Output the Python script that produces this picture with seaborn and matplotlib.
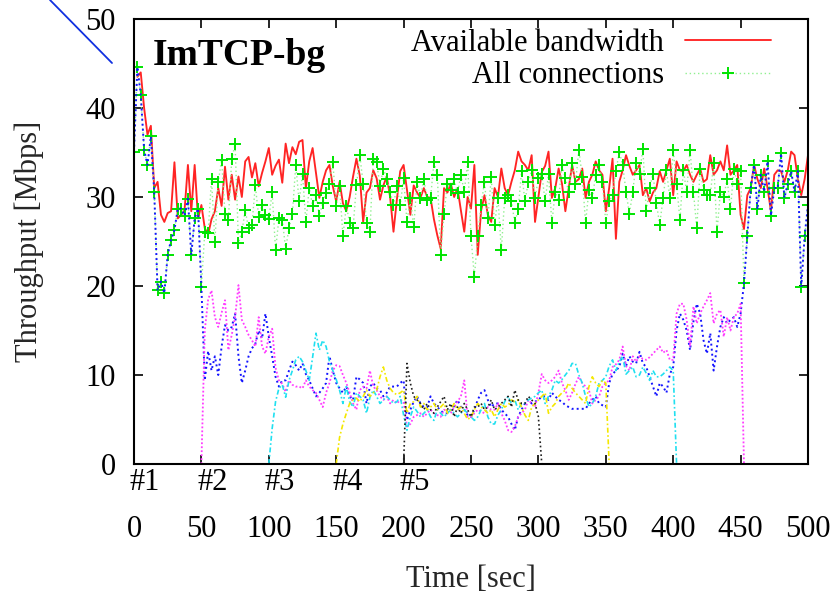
import numpy as np
import pandas as pd
import matplotlib
matplotlib.use("Agg")
import matplotlib.pyplot as plt
from matplotlib.lines import Line2D
import seaborn as sns

# ---------------- data ----------------
STEP = 2.5  # seconds between samples

avail_start = 2.5
avail_bw = [
    43.5, 44.0, 40.0, 37.0, 38.0, 31.0, 31.7, 28.0, 27.2, 28.2,
    28.4, 33.9, 27.6, 28.0, 28.5, 33.6, 28.4, 33.6, 27.6, 29.1,
    26.5, 25.8, 27.5, 28.4, 31.0, 29.0, 33.4, 29.7, 32.5, 29.7,
    32.3, 30.0, 34.0, 34.5, 32.2, 33.8, 31.2, 32.7, 34.0, 35.5,
    32.5, 33.5, 34.2, 31.6, 36.0, 33.8, 35.6, 34.8, 36.2, 36.4,
    31.0, 34.0, 35.5, 32.7, 29.9, 31.7, 33.0, 33.6, 31.2, 29.5,
    31.7, 29.3, 28.4, 30.0, 32.3, 34.3, 32.4, 27.2, 30.5, 31.0,
    33.0, 32.1, 29.7, 31.3, 32.3, 30.0, 26.1, 29.7, 32.9, 33.6,
    30.8, 28.0, 31.3, 30.5, 29.9, 31.0, 30.0, 29.9, 27.5, 25.7,
    24.2, 31.0, 30.5, 31.5, 30.0, 31.0, 28.5, 26.1, 30.0, 28.7,
    33.6, 23.5, 28.5, 30.2, 28.0, 27.2, 31.0, 30.0, 33.2, 31.0,
    30.2, 31.7, 33.0, 35.1, 34.0, 33.6, 33.0, 34.7, 27.2, 30.0,
    32.8, 33.5, 35.1, 29.9, 31.0, 33.2, 31.5, 28.4, 31.0, 33.6,
    31.7, 32.0, 33.2, 29.9, 31.7, 32.5, 34.0, 33.0, 32.5, 28.4,
    31.0, 34.3, 25.3, 31.7, 33.0, 34.7, 33.5, 32.5, 33.0, 33.6,
    30.2, 31.0, 29.5, 30.5, 31.0, 32.9, 31.7, 33.0, 34.3, 30.2,
    34.0, 33.0, 32.9, 33.6, 32.5, 31.7, 32.5, 33.2, 31.7, 32.0,
    34.7, 32.5, 33.0, 34.0, 33.0, 35.8, 32.5, 33.0, 33.6, 28.0,
    26.4, 30.2, 31.0, 33.6, 32.0, 31.0, 33.2, 31.0, 28.4, 32.5,
    33.0, 32.9, 31.7, 33.0, 35.1, 34.7, 32.0, 30.2, 32.0, 34.7,
]

all_start = 0.0
all_conn = [
    35.1,
    44.6, 41.5, 35.3, 33.6, 36.8, 30.6, 19.5, 20.5, 19.2, 23.5,
    25.2, 26.3, 28.7, 28.7, 27.9, 29.8, 23.5, 27.6, 28.7, 19.9,
    26.1, 26.0, 32.0, 25.0, 31.7, 34.2, 28.1, 27.4, 34.3, 35.9,
    24.8, 26.1, 28.5, 26.5, 26.9, 31.3, 27.8, 29.1, 28.0, 27.5,
    30.6, 24.0, 27.6, 27.4, 24.2, 26.5, 28.1, 33.6, 29.5, 32.6,
    27.2, 31.0, 29.0, 30.2, 27.9, 29.3, 30.4, 31.5, 33.9, 29.0,
    31.2, 25.6, 29.0, 27.1, 26.5, 31.3, 34.7, 31.5, 27.1, 26.1,
    34.3, 33.9, 31.2, 33.2, 32.0, 30.6, 29.1, 31.2, 29.1, 32.1,
    27.2, 29.9, 26.6, 31.7, 29.9, 32.0, 29.7, 29.9, 33.9, 32.5,
    23.5, 28.1, 31.5, 30.8, 32.0, 30.4, 32.5, 30.6, 33.9, 25.6,
    21.0, 25.6, 29.1, 31.7, 27.6, 32.2, 26.9, 29.9, 24.0, 29.9,
    30.2, 29.5, 27.1, 28.6, 32.9, 29.5, 31.7, 33.0, 29.9, 32.1,
    32.6, 29.5, 32.6, 27.1, 30.6, 29.7, 33.6, 32.1, 30.6, 33.8,
    31.5, 35.3, 32.3, 27.1, 30.8, 29.9, 32.5, 33.6, 31.7, 27.1,
    29.5, 30.2, 32.9, 35.1, 33.6, 30.6, 28.1, 30.6, 33.8, 32.6,
    35.4, 28.4, 31.0, 32.6, 29.3, 26.9, 29.9, 33.0, 29.9, 35.3,
    31.5, 27.4, 33.0, 30.6, 35.3, 30.6, 26.5, 33.2, 30.8, 30.2,
    30.2, 33.8, 26.1, 30.6, 30.0, 32.0, 28.6, 33.2, 31.5, 32.9,
    20.3, 25.6, 31.0, 33.6, 28.6, 32.5, 30.6, 34.0, 27.9, 31.0,
    31.0, 34.9, 29.9, 31.5, 32.9, 30.6, 32.9, 19.9, 25.6, 29.1,
]

conn_starts = [0.0, 50.0, 100.0, 150.0, 200.0]
conn_labels = ["#1", "#2", "#3", "#4", "#5"]

conn1 = [
    35.1,
    44.6, 41.5, 35.3, 33.6, 36.8, 30.6, 19.5, 20.5, 19.2, 23.5,
    25.2, 26.3, 28.7, 28.7, 27.9, 29.8, 23.5, 27.6, 28.7, 19.9,
    9.4, 12.7, 10.5, 12.1, 10.0, 13.2, 15.6, 15.0, 15.4, 16.9,
    12.1, 9.1, 10.5, 12.1, 13.0, 13.5, 15.0, 14.1, 16.9, 14.3,
    12.1, 9.8, 8.7, 9.4, 9.4, 10.5, 11.5, 11.1, 10.5, 11.3,
    10.1, 9.4, 8.5, 7.6, 8.0, 8.5, 9.1, 12.1, 10.5, 9.1,
    8.5, 8.0, 8.7, 7.6, 7.2, 9.8, 9.5, 9.1, 6.8, 8.7,
    9.1, 8.5, 8.3, 7.6, 8.0, 8.7, 8.7, 8.7, 9.1, 9.4,
    4.9, 6.1, 7.0, 7.6, 6.8, 6.4, 6.4, 7.6, 6.8, 6.4,
    6.0, 5.7, 5.7, 6.1, 6.5, 7.2, 6.4, 6.1, 5.5, 5.3,
    6.1, 7.2, 8.0, 8.3, 7.2, 6.4, 6.8, 6.8, 6.1, 5.7,
    5.3, 4.5, 3.8, 5.3, 6.1, 6.8, 7.2, 6.8, 7.0, 7.2,
    7.6, 7.6, 7.2, 8.0, 7.6, 7.2, 7.0, 6.6, 6.4, 6.2,
    6.2, 6.2, 6.2, 6.2, 6.8, 7.2, 7.6, 6.8, 6.6, 6.4,
    9.1, 10.1, 10.5, 10.9, 12.4, 11.0, 12.1, 11.5, 11.3, 12.6,
    11.3, 10.9, 9.8, 8.7, 7.6, 9.1, 8.7, 8.0, 10.1, 10.9,
    15.0, 16.9, 16.2, 15.0, 12.8, 16.0, 18.0, 16.9, 13.9, 12.4,
    14.7, 10.5, 13.2, 15.4, 16.5, 15.8, 16.2, 16.5, 15.4, 16.9,
    20.3, 25.6, 31.0, 33.6, 28.6, 32.5, 30.6, 34.0, 27.9, 31.0,
    31.0, 34.9, 29.9, 31.5, 32.9, 30.6, 32.9, 19.9, 25.6, 29.1,
]

conn2 = [
    0.0, 15.0, 18.5, 19.5, 16.5, 15.4, 17.0, 18.4, 12.8, 14.5,
    16.5, 20.1, 16.2, 15.4, 14.5, 13.9, 13.2, 16.5, 13.2, 12.4,
    14.3, 15.2, 10.8, 9.4, 9.0, 8.1, 9.4, 8.9, 8.7, 8.7,
    8.5, 9.4, 8.7, 8.3, 8.0, 7.2, 6.4, 8.0, 9.1, 10.5,
    11.1, 11.0, 10.0, 9.1, 8.0, 6.8, 6.1, 8.3, 8.7, 8.5,
    10.5, 8.7, 8.3, 7.6, 7.2, 7.6, 6.8, 7.2, 6.8, 7.2,
    7.0, 4.2, 4.5, 5.3, 5.5, 5.7, 5.3, 5.7, 6.1, 5.7,
    5.5, 5.3, 6.1, 5.9, 5.7, 6.4, 7.0, 7.6, 9.4, 5.3,
    5.3, 5.7, 6.1, 5.9, 5.7, 6.4, 6.1, 6.1, 6.8, 5.7,
    4.9, 3.8, 3.6, 4.2, 5.3, 5.7, 6.1, 7.2, 6.8, 6.4,
    8.0, 10.1, 9.4, 9.1, 9.4, 9.8, 10.5, 9.1, 8.3, 7.2,
    8.0, 9.0, 9.8, 9.1, 8.7, 8.3, 6.8, 7.2, 7.6, 8.7,
    9.1, 9.4, 10.9, 11.2, 11.7, 13.2, 11.0, 10.5, 12.1, 11.5,
    12.1, 11.8, 11.7, 12.0, 12.4, 12.8, 13.2, 12.5, 12.8, 11.7,
    11.7, 16.9, 18.0, 18.0, 16.2, 13.2, 17.7, 15.8, 16.9, 17.7,
    18.4, 19.2, 15.8, 16.9, 17.3, 14.3, 16.5, 15.0, 16.5, 16.9,
    18.0, 0.0,
]

conn3 = [
    0.0, 4.0, 7.0, 8.5, 8.9, 7.5, 9.4, 10.5, 11.7, 12.1,
    11.5, 10.5, 9.4, 12.0, 14.7, 12.8, 13.9, 13.2, 11.5, 10.5,
    9.5, 8.3, 6.8, 8.7, 7.0, 6.4, 8.0, 7.6, 7.2, 5.7,
    7.5, 8.3, 7.6, 6.8, 7.2, 7.6, 7.2, 6.8, 7.0, 7.6,
    5.5, 3.8, 5.3, 6.4, 5.9, 5.3, 5.7, 6.1, 5.3, 4.9,
    6.1, 5.7, 5.3, 5.7, 6.1, 5.7, 5.3, 5.7, 6.1, 5.7,
    5.3, 4.9, 5.3, 6.1, 6.8, 5.3, 4.5, 4.5, 5.5, 6.1,
    7.0, 7.6, 6.8, 7.2, 6.1, 6.8, 6.8, 7.2, 7.4, 7.6,
    8.0, 8.3, 6.8, 7.6, 8.3, 9.4, 9.1, 9.5, 10.0, 10.5,
    11.3, 11.3, 10.0, 9.1, 7.6, 6.4, 6.8, 7.6, 9.1, 9.4,
    9.8, 11.0, 11.7, 10.5, 11.5, 12.1, 10.1, 10.5, 10.9, 9.8,
    10.0, 10.9, 10.2, 9.4, 10.5, 9.8, 9.8, 10.1, 10.5, 10.9,
    10.5, 0.0,
]

conn4 = [
    0.0, 3.0, 4.5, 5.7, 6.8, 7.2, 7.4, 7.0, 7.6, 8.3,
    7.6, 8.0, 8.3, 9.8, 10.9, 9.4, 8.5, 8.0, 7.8, 8.0,
    8.3, 5.7, 6.8, 7.0, 7.6, 6.4, 6.8, 6.1, 6.4, 6.8,
    6.1, 6.4, 6.8, 5.7, 6.1, 6.8, 6.1, 6.4, 5.7, 5.0,
    5.3, 6.1, 6.8, 6.4, 6.1, 5.7, 6.1, 5.3, 6.1, 6.8,
    6.4, 6.6, 7.2, 7.0, 7.2, 6.4, 5.5, 4.9, 6.4, 6.8,
    7.2, 7.6, 8.0, 5.7, 6.4, 6.8, 7.6, 8.0, 8.3, 9.1,
    8.5, 8.0, 7.6, 7.2, 6.8, 8.7, 9.8, 9.1, 8.7, 9.4,
    9.1, 0.0,
]

conn5 = [
    0.0, 11.3, 9.1, 7.6, 7.2, 6.8, 6.1, 6.8, 6.1, 5.7,
    6.4, 7.0, 7.6, 6.1, 6.8, 5.3, 6.4, 5.7, 6.8, 6.1,
    5.3, 6.4, 6.4, 6.8, 6.1, 6.4, 7.2, 6.1, 6.4, 6.8,
    7.2, 7.6, 6.4, 8.3, 7.2, 6.8, 6.8, 7.6, 7.2, 6.8,
    5.3, 0.0,
]

x_ticks = [0, 50, 100, 150, 200, 250, 300, 350, 400, 450, 500]
y_ticks = [0, 10, 20, 30, 40, 50]
series_labels = ["Available bandwidth", "All connections"]
panel_title = "ImTCP-bg"

# ---------------- style ----------------
sns.set_theme(style="ticks")
plt.rcParams["font.family"] = ["Liberation Serif", "DejaVu Serif"]
plt.rcParams["axes.edgecolor"] = "black"
plt.rcParams["text.color"] = "black"
plt.rcParams["xtick.color"] = "black"
plt.rcParams["ytick.color"] = "black"

FS = 22


def frame(start, vals):
    return pd.DataFrame({"time": start + STEP * np.arange(len(vals)),
                         "mbps": vals})


fig = plt.figure(figsize=(8.39, 5.93), dpi=100)
fig.patch.set_facecolor("white")
ax = fig.add_axes([134 / 839, 1 - 464 / 593, 674 / 839, 445 / 593])
ax.set_facecolor("white")

common = dict(x="time", y="mbps", ax=ax, estimator=None, sort=False)

sns.lineplot(data=frame(avail_start, avail_bw), color="#ff2424", lw=1.35,
             label=series_labels[0], legend=False, **common)
sns.lineplot(data=frame(all_start, all_conn), color="#90f090", lw=1.0,
             linestyle=(0, (1, 2)), marker="+", markersize=9,
             markeredgewidth=1.4, markeredgecolor="#00e400",
             markerfacecolor="#00e400",
             label=series_labels[1], legend=False, **common)

conn_styles = [
    dict(color="#1414ff", lw=1.4, linestyle=(0, (1, 1.6))),
    dict(color="#ff3cff", lw=1.3, linestyle=(0, (1, 1.2))),
    dict(color="#20e0f0", lw=1.2, linestyle=(0, (3, 1.5, 1, 1.5))),
    dict(color="#f4e800", lw=1.2, linestyle=(0, (3, 1.5, 1, 1.5))),
    dict(color="#202020", lw=1.2, linestyle=(0, (1, 1.6))),
]
for start, vals, st in zip(conn_starts, [conn1, conn2, conn3, conn4, conn5],
                           conn_styles):
    sns.lineplot(data=frame(start, vals), legend=False, **st, **common)

ax.set_xlim(0, 500)
ax.set_ylim(0, 50)
ax.set_xticks(x_ticks)
ax.set_xticklabels([str(v) for v in x_ticks])
ax.set_yticks(y_ticks)
ax.set_yticklabels([str(v) for v in y_ticks])
ax.tick_params(axis="both", which="major", direction="in", length=6.5,
               width=1.2, top=True, right=True, labelsize=FS)
ax.tick_params(axis="x", pad=37)
ax.tick_params(axis="y", pad=13)
for sp in ax.spines.values():
    sp.set_visible(True)
    sp.set_linewidth(1.5)
    sp.set_color("black")

ax.set_xlabel("Time [sec]", fontsize=FS)
ax.set_ylabel("Throughput [Mbps]", fontsize=FS)
ax.xaxis.set_label_coords(0.5, -0.226)
ax.yaxis.set_label_coords(-0.134, 0.5)

# connection start markers under the axis
for lab, t in zip(conn_labels, conn_starts):
    ax.annotate(lab, xy=(t, 0), xycoords=("data", "axes fraction"),
                xytext=(-3, -3), textcoords="offset points",
                ha="left", va="top", fontsize=FS)

ax.text(0.028, 0.958, panel_title, transform=ax.transAxes, ha="left",
        va="top", fontsize=27, fontweight="bold")

leg = ax.legend(handles=ax.lines[:2], labels=series_labels,
                loc="upper right", bbox_to_anchor=(0.945, 0.978),
                frameon=False, markerfirst=False, handlelength=2.8,
                handletextpad=0.7, labelspacing=0.12, borderpad=0,
                borderaxespad=0, fontsize=FS, numpoints=1)

# stray blue stroke at the top-left corner of the figure
fig.add_artist(Line2D([50 / 839, 112 / 839], [1.0, 1 - 63 / 593],
                      transform=fig.transFigure, color="#1030e0", lw=1.3))

fig.savefig("out.png", dpi=100, facecolor="white")
